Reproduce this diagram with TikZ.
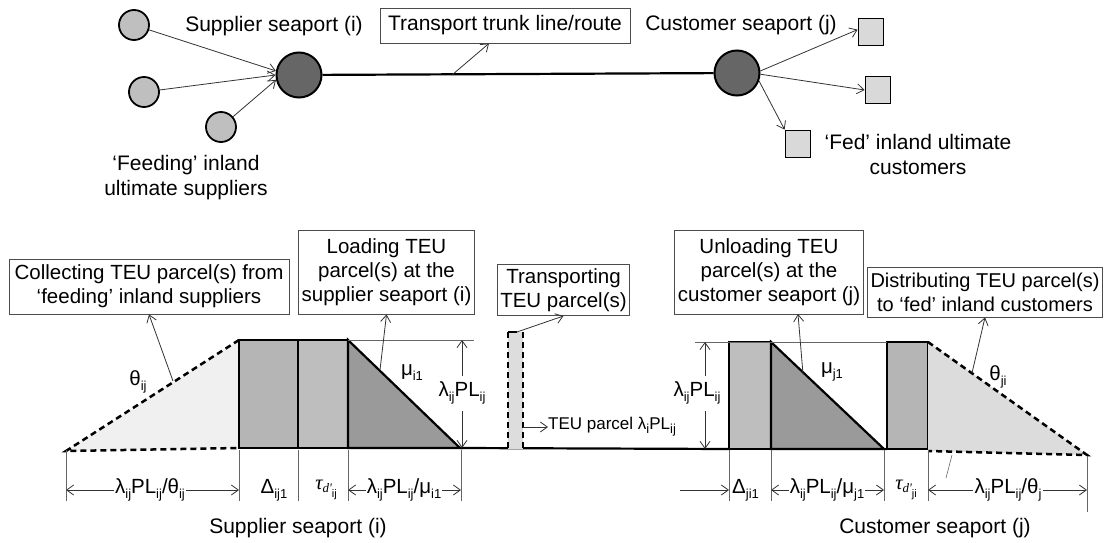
\documentclass[tikz,border=0pt]{standalone}
\usepackage{fontspec}
\setmainfont{Liberation Sans}
\newfontfamily\serifgr{Liberation Serif}
\usetikzlibrary{arrows.meta,calc}
\newcommand\sbs[1]{\raisebox{-0.45ex}{\fontsize{13}{13}\selectfont #1}}
\newcommand\tauTxt[1]{{\serifgr\itshape τ\raisebox{-0.3ex}{\fontsize{13}{13}\selectfont d'}}\raisebox{-0.7ex}{\fontsize{11}{11}\selectfont #1}}
\definecolor{supfill}{HTML}{BFBFBF}
\definecolor{portfill}{HTML}{666666}
\definecolor{custfill}{HTML}{D9D9D9}
\definecolor{blkA}{HTML}{B5B5B5}
\definecolor{blkB}{HTML}{BEBEBE}
\definecolor{triD}{HTML}{9A9A9A}
\definecolor{trapL}{HTML}{F0F0F0}
\definecolor{trapR}{HTML}{DCDCDC}
\definecolor{transp}{HTML}{DDDDDD}
\begin{document}
\begin{tikzpicture}[x=1pt,y=-1pt,
  >={Straight Barb[length=7pt,width=10pt]},
  every node/.style={font=\fontsize{20.5}{24}\selectfont, inner sep=0pt},
  big/.style={font=\fontsize{21}{25}\selectfont},
  sup/.style={circle, draw, line width=1.8pt, fill=supfill, minimum size=30pt},
  port/.style={circle, draw, line width=2pt, fill=portfill, minimum size=45pt},
  cust/.style={rectangle, draw, line width=1.8pt, fill=custfill, minimum width=25pt, minimum height=27pt},
  arr/.style={->, line width=0.8pt, draw=black!80},
  tbox/.style={draw=black!70, line width=0.8pt, align=center, inner xsep=3pt, inner ysep=4pt, fill=white},
  thk/.style={line width=2.2pt},
  dsh/.style={line width=2.5pt, dash pattern=on 6pt off 4pt},
  dim/.style={line width=0.6pt, draw=black!60},
  dimlbl/.style={fill=white, inner xsep=1pt}]
\useasboundingbox (0,0) rectangle (1104,543);
% ---------- top network ----------
\node[sup] (s1) at (134,25) {};
\node[sup] (s2) at (144,92) {};
\node[sup] (s3) at (221,127) {};
\node[port] (pi) at (299,75) {};
\node[port] (pj) at (737,73) {};
\node[cust] (c1) at (871,32) {};
\node[cust] (c2) at (878,90) {};
\node[cust] (c3) at (798,144) {};
\node[big] (lsi) at (274,26) {Supplier seaport (i)};
\node[tbox, big, minimum width=250pt, minimum height=35pt] (trunk) at (505,25.5) {Transport trunk line/route};
\node[big] (lsj) at (741,25) {Customer seaport (j)};
\node[big, align=center] (lfeed) at (186,177.5) {‘Feeding’ inland\\ultimate suppliers};
\node[big, align=center] (lfed) at (918,154.5) {‘Fed’ inland ultimate\\customers};
\draw[arr] (s1) -- (pi.170);
\draw[arr] (s2) -- (pi.180);
\draw[arr] (s3) -- (pi.192);
\draw[thk] (pi) -- (pj);
\coordinate (tl) at (452,75);
\draw[arr] (tl) -- (trunk.south -| 489,0);
\draw[arr] (pj.5) -- (c1.170);
\draw[arr] (pj.-3) -- (c2.west);
\draw[arr] (pj.-20) -- (c3.north west);
% ---------- bottom: supplier side ----------
\fill[trapL] (66,451) -- (239,340) -- (239,448) -- cycle;
\draw[dsh] (239,340) -- (66,451) -- (239,448);
\draw[thk, fill=blkA] (239,340) rectangle (298,448);
\draw[thk, fill=blkB] (298,340) rectangle (348,448);
\draw[thk, fill=triD] (348,340) -- (460,448) -- (348,448) -- cycle;
\draw[thk] (460,448) -- (729,449);
\draw[dim] (348,340) -- (474,340);
% transport parcel
\fill[transp] (508,332) rectangle (523,449);
\draw[dsh] (508,332) -- (508,449);
\draw[dsh] (523,332) -- (523,449);
\draw[thk] (508,332) -- (517,332);
% ---------- bottom: customer side ----------
\draw[thk, fill=blkB] (729,342) rectangle (771,449);
\draw[thk, fill=triD] (771,342) -- (884,449) -- (771,449) -- cycle;
\draw[thk] (884,449) -- (887,449);
\draw[thk, fill=blkA] (887,342) rectangle (928,449);
\fill[trapR] (928,342) -- (1087,455) -- (928,451) -- cycle;
\draw[dsh] (928,342) -- (1087,455) -- (928,451);
\draw[dim] (695,342) -- (887,342);
% ---------- boxes ----------
\node[tbox, minimum width=280pt, minimum height=55pt] (bcol) at (149,286.5) {Collecting TEU parcel(s) from\\‘feeding’ inland suppliers};
\node[tbox, minimum width=173pt, minimum height=84pt] (bload) at (386.5,272) {Loading TEU\\parcel(s) at the\\supplier seaport (i)};
\node[tbox, minimum width=131pt, minimum height=48pt] (btra) at (563.5,290) {Transporting\\TEU parcel(s)};
\node[tbox, minimum width=178pt, minimum height=84pt] (bunl) at (769,272) {Unloading TEU\\parcel(s) at the\\customer seaport (j)};
\node[tbox, font=\fontsize{20}{24}\selectfont, minimum width=235pt, minimum height=50pt] (bdis) at (985,292) {Distributing TEU parcel(s)\\to ‘fed’ inland customers};
\coordinate (pcol) at (173,381);
\coordinate (pload) at (380,370);
\coordinate (ptra) at (517,332);
\coordinate (punl) at (803,374);
\coordinate (tunl) at (798,314);
\coordinate (pdis) at (972,373);
\draw[arr] (pcol) -- (bcol.south);
\draw[arr] (pload) -- (bload.south);
\draw[arr] (ptra) -- (btra.south);
\draw[arr] (punl) -- (tunl);
\draw[arr] (pdis) -- (bdis.south);
% ---------- rate labels ----------
\node (th1) at (138,382) {θ\sbs{ij}};
\node (mu1) at (412,373) {μ\sbs{i1}};
\node (mu2) at (832,372) {μ\sbs{j1}};
\node (th2) at (998,377) {θ\sbs{ji}};
% vertical lambda PL
\node (lamL) at (462,393) {λ\sbs{ij}PL\sbs{ij}};
\coordinate (lamLt) at (462,340);
\coordinate (lamLb) at (462,448);
\draw[arr] (462,376) -- (lamLt);
\draw[arr] (462,411) -- (lamLb);
\node (lamR) at (697,393) {λ\sbs{ij}PL\sbs{ij}};
\coordinate (lamRt) at (705,342);
\coordinate (lamRb) at (705,449);
\draw[arr] (705,376) -- (lamRt);
\draw[arr] (705,411) -- (lamRb);
% TEU parcel label
\node[font=\fontsize{17}{20}\selectfont, anchor=west] (teu) at (548,427) {TEU parcel λ\sbs{i}PL\sbs{ij}};
\coordinate (teus) at (523,427);
\draw[arr] (teus) -- (teu.west);
% ---------- dimension lines ----------
\foreach \xx in {66,239,298,348,461} \draw[dim] (\xx,450) -- (\xx,501);
\foreach \xx in {729,771,884,928} \draw[dim] (\xx,450) -- (\xx,501);
\draw[dim] (1087,456) -- (1087,512);
\draw[dim] (952,455) -- (946,478);
\node[dimlbl] (d1) at (150,490) {λ\sbs{ij}PL\sbs{ij}/θ\sbs{ij}};
\draw[arr] (d1.west) -- (66,490);
\draw[arr] (d1.east) -- (239,490);
\node (d2) at (274,490) {Δ\sbs{ij1}};
\node (d3) at (326,490) {\tauTxt{ij}};
\node[dimlbl] (d4) at (404,490) {λ\sbs{ij}PL\sbs{ij}/μ\sbs{i1}};
\draw[arr] (d4.west) -- (348,490);
\draw[arr] (d4.east) -- (461,490);
\coordinate (d5s) at (680,490);
\node[anchor=west] (d5) at (732,490) {Δ\sbs{ji1}};
\draw[arr] (d5s) -- (729,490);
\node[dimlbl] (d6) at (827,490) {λ\sbs{ij}PL\sbs{ij}/μ\sbs{j1}};
\draw[arr] (d6.west) -- (771,490);
\draw[arr] (d6.east) -- (884,490);
\node (d7) at (906,490) {\tauTxt{ji}};
\node[dimlbl] (d8) at (1008,490) {λ\sbs{ij}PL\sbs{ij}/θ\sbs{j}};
\draw[arr] (d8.west) -- (928,490);
\draw[arr] (d8.east) -- (1087,490);
% bottom captions
\node[big] (bsi) at (298,528) {Supplier seaport (i)};
\node[big] (bsj) at (935,528) {Customer seaport (j)};
\end{tikzpicture}
\end{document}
